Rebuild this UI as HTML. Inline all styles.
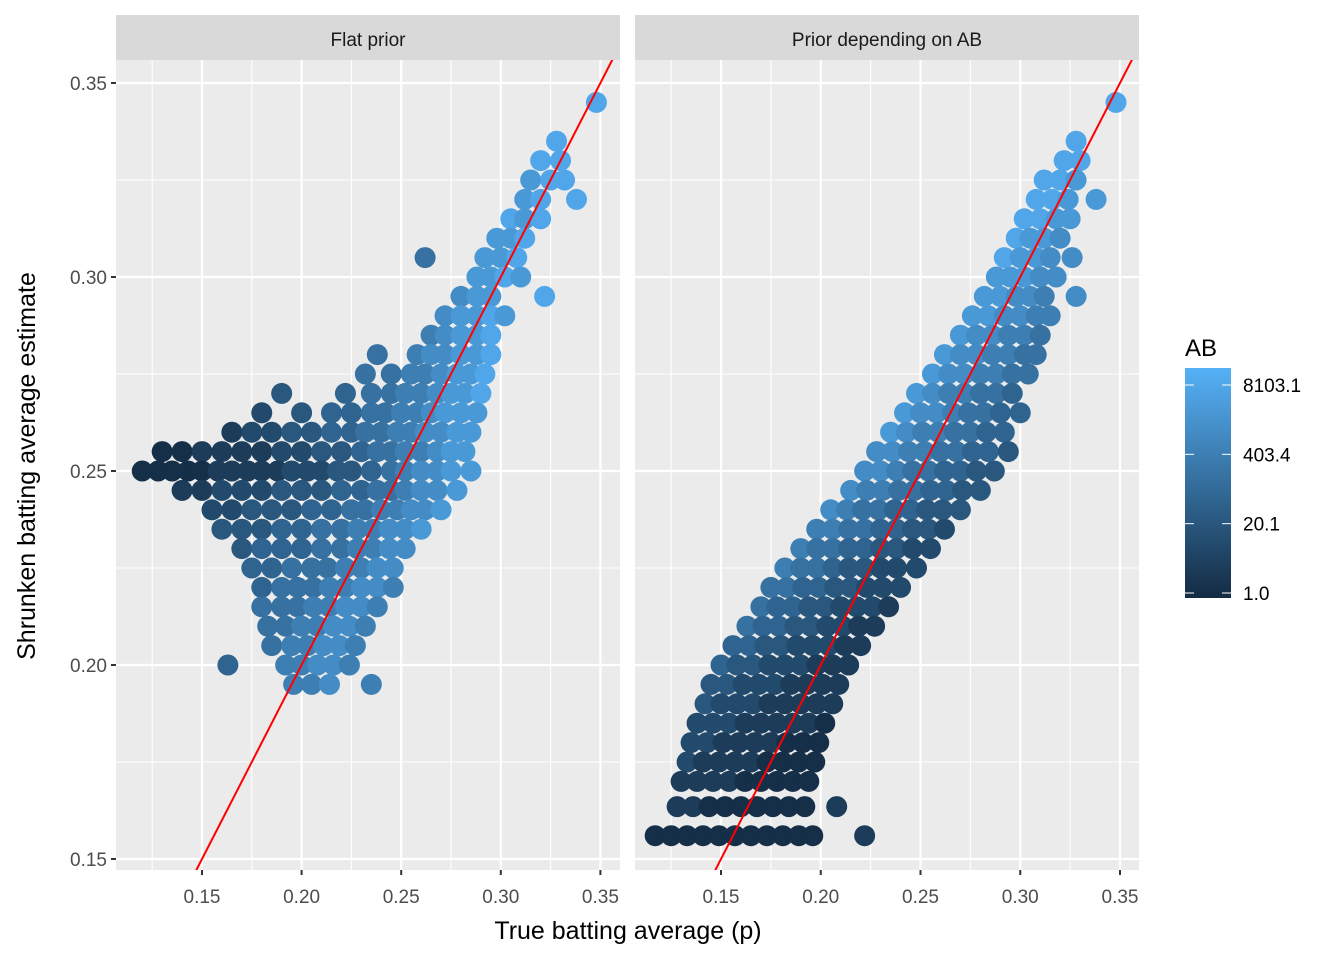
<!DOCTYPE html>
<html><head><meta charset="utf-8"><style>
html,body{margin:0;padding:0;background:#fff;width:1344px;height:960px;overflow:hidden;}
svg{display:block;font-family:"Liberation Sans",sans-serif;}
</style></head><body>
<svg id="chart" width="1344" height="960" viewBox="0 0 1344 960">
<defs><linearGradient id="abgrad" x1="0" y1="1" x2="0" y2="0"><stop offset="0" stop-color="#132B43"/><stop offset="1" stop-color="#56B1F7"/></linearGradient></defs>
<g id="panels"></g>
<text x="628" y="939" font-size="25" text-anchor="middle" fill="#000">True batting average (p)</text>
<text transform="translate(35,466) rotate(-90)" font-size="25" text-anchor="middle" fill="#000">Shrunken batting average estimate</text>
<g>
<text x="1185" y="356" font-size="24" fill="#000">AB</text>
<rect x="1185" y="368" width="46" height="230" fill="url(#abgrad)"/>
<g id="legendTicks"></g>
</g>
</svg>
<script>
const ticks=[0.15,0.20,0.25,0.30,0.35];
const tickLabels=["0.15","0.20","0.25","0.30","0.35"];
const minorTicks=[0.125,0.175,0.225,0.275,0.325];
const panelTitles=["Flat prior","Prior depending on AB"];
const legendLogs=[0,3,6,9];
const legendLabels=["1.0","20.1","403.4","8103.1"];
// left panel rows
const leftY=[0.345,0.335,0.330,0.325,0.320,0.315,0.310,0.305,0.300,0.295,0.290,0.285,0.280,0.275,0.270,0.265,0.260,0.255,0.250,0.245,0.240,0.235,0.230,0.225,0.220,0.215,0.210,0.205,0.200,0.195];
const leftX=[[0.348],[0.328],[0.320,0.330],[0.315,0.325,0.332],[0.312,0.320,0.338],[0.305,0.312,0.320],[0.298,0.305,0.312],[0.292,0.300,0.308,0.262],[0.288,0.295,0.302,0.310],[0.280,0.288,0.295,0.322],[0.272,0.280,0.288,0.295,0.302],[0.265,0.272,0.280,0.288,0.295],[0.238,0.258,0.265,0.272,0.280,0.288,0.295],[0.232,0.245,0.255,0.262,0.270,0.278,0.285,0.292],[0.190,0.222,0.235,0.245,0.252,0.260,0.268,0.275,0.282,0.290],[0.180,0.200,0.215,0.225,0.235,0.242,0.250,0.258,0.265,0.272,0.280,0.288],[0.165,0.175,0.185,0.195,0.205,0.215,0.225,0.232,0.240,0.248,0.255,0.262,0.270,0.278,0.285],[0.130,0.140,0.150,0.160,0.170,0.180,0.190,0.200,0.210,0.220,0.230,0.238,0.245,0.252,0.260,0.268,0.275,0.282],[0.120,0.128,0.135,0.143,0.150,0.158,0.165,0.173,0.180,0.188,0.195,0.203,0.210,0.218,0.225,0.235,0.245,0.252,0.260,0.268,0.275,0.285],[0.140,0.150,0.160,0.170,0.180,0.190,0.200,0.210,0.220,0.230,0.238,0.245,0.252,0.260,0.268,0.278],[0.155,0.165,0.175,0.185,0.195,0.205,0.215,0.225,0.232,0.240,0.248,0.255,0.262,0.270],[0.160,0.170,0.180,0.190,0.200,0.210,0.220,0.228,0.236,0.244,0.252,0.260],[0.170,0.180,0.190,0.200,0.210,0.220,0.228,0.236,0.244,0.252],[0.175,0.185,0.195,0.205,0.213,0.222,0.230,0.238,0.246],[0.180,0.190,0.198,0.206,0.214,0.222,0.230,0.238,0.246],[0.180,0.190,0.198,0.206,0.214,0.222,0.230,0.238],[0.183,0.192,0.200,0.208,0.216,0.224,0.232],[0.185,0.195,0.203,0.211,0.219,0.227],[0.163,0.192,0.200,0.208,0.216,0.224],[0.196,0.205,0.214,0.235]];
const leftAB=[[9],[9],[9,9],[8,9,9],[8,9,9],[9,8,9],[8,8,9],[8,8,9,5],[8,8,9,8],[7,8,8,9],[7,8,8,9,8],[6,7,8,8,9],[5,6,7,7,8,8,9],[5,5,6,6,7,8,8,9],[3,4,5,5,6,6,7,8,8,9],[2,3,4,4,5,5,6,6,7,8,8,8],[1,2,2,3,3,4,4,5,5,6,6,7,7,8,8],[0,0,1,1,1,1,2,2,3,3,4,5,5,6,6,7,8,8],[0,0,0,0,0,1,1,1,1,1,2,2,2,3,3,4,5,6,7,7,8,8],[1,1,2,2,2,3,3,3,4,4,5,5,6,7,7,8],[2,2,3,3,3,4,4,5,5,6,6,7,7,8],[3,3,3,4,4,5,5,6,6,7,7,8],[3,4,4,4,5,5,6,6,7,7],[4,4,5,5,5,6,6,7,7],[4,5,5,5,6,6,7,7,6],[5,5,5,6,6,7,7,6],[5,5,6,6,7,7,6],[5,6,6,7,7,6],[4,6,6,7,7,6],[6,6,7,6]];
// right panel rows
const rightY=[0.345,0.335,0.330,0.325,0.320,0.315,0.310,0.305,0.300,0.295,0.290,0.285,0.280,0.275,0.270,0.265,0.260,0.255,0.250,0.245,0.240,0.235,0.230,0.225,0.220,0.215,0.210,0.205,0.200,0.195,0.190,0.185,0.180,0.175,0.170,0.1635,0.156];
const rightX=[[0.348],[0.328],[0.322,0.330],[0.312,0.320,0.328],[0.308,0.316,0.324,0.338],[0.302,0.310,0.318,0.325],[0.298,0.305,0.312,0.320],[0.292,0.300,0.308,0.315,0.326],[0.288,0.295,0.302,0.310,0.318],[0.282,0.290,0.298,0.305,0.312,0.328],[0.276,0.284,0.292,0.300,0.308,0.315],[0.270,0.278,0.286,0.294,0.302,0.310],[0.262,0.270,0.278,0.286,0.294,0.302,0.308],[0.256,0.264,0.272,0.280,0.288,0.296,0.304],[0.248,0.256,0.264,0.272,0.280,0.288,0.296],[0.242,0.250,0.258,0.266,0.274,0.282,0.290,0.300],[0.235,0.243,0.251,0.259,0.267,0.275,0.283,0.292],[0.228,0.236,0.244,0.252,0.260,0.268,0.276,0.284,0.294],[0.222,0.230,0.238,0.246,0.254,0.262,0.270,0.278,0.287],[0.215,0.223,0.231,0.239,0.247,0.255,0.263,0.271,0.280],[0.205,0.213,0.221,0.229,0.237,0.245,0.253,0.261,0.270],[0.198,0.206,0.214,0.222,0.230,0.238,0.246,0.254,0.262],[0.190,0.198,0.206,0.214,0.222,0.230,0.238,0.246,0.255],[0.182,0.190,0.198,0.206,0.214,0.222,0.230,0.238,0.248],[0.175,0.183,0.191,0.199,0.207,0.215,0.223,0.231,0.240],[0.170,0.178,0.186,0.194,0.202,0.210,0.218,0.226,0.234],[0.163,0.171,0.179,0.187,0.195,0.203,0.211,0.219,0.227],[0.156,0.164,0.172,0.180,0.188,0.196,0.204,0.212,0.220],[0.150,0.158,0.166,0.174,0.182,0.190,0.198,0.206,0.214],[0.145,0.153,0.161,0.169,0.177,0.185,0.193,0.201,0.209],[0.142,0.150,0.158,0.166,0.174,0.182,0.190,0.198,0.206],[0.138,0.146,0.154,0.162,0.170,0.178,0.186,0.194,0.202],[0.135,0.143,0.151,0.159,0.167,0.175,0.183,0.191,0.199],[0.133,0.141,0.149,0.157,0.165,0.173,0.181,0.189,0.197],[0.130,0.138,0.146,0.154,0.162,0.170,0.178,0.186,0.194],[0.128,0.136,0.144,0.152,0.160,0.168,0.176,0.184,0.192,0.208],[0.117,0.125,0.133,0.141,0.149,0.157,0.165,0.173,0.181,0.189,0.196,0.222]];
const rightAB=[[9],[9],[9,9],[9,9,8],[9,9,8,8],[9,9,8,8],[9,8,8,7],[9,8,8,7,7],[8,8,8,7,7],[8,8,7,7,6,7],[8,8,7,7,6,6],[8,7,7,6,6,5],[8,7,7,6,6,5,5],[8,7,7,6,6,5,5],[8,7,6,6,5,5,4],[8,7,7,6,5,5,4,4],[8,7,6,6,5,5,4,4],[7,7,6,6,5,5,4,4,3],[7,7,6,5,5,4,4,3,3],[7,6,6,5,5,4,4,3,3],[7,6,5,5,4,4,3,3,3],[6,6,5,5,4,4,3,3,2],[6,5,5,4,4,3,3,2,2],[6,5,5,4,3,3,2,2,2],[5,5,4,4,3,3,2,2,2],[5,4,4,3,3,2,2,2,1],[5,4,4,3,3,2,2,1,1],[4,4,3,3,2,2,2,1,1],[4,3,3,2,2,2,1,1,1],[3,3,2,2,2,1,1,1,1],[3,2,2,2,1,1,1,1,1],[2,2,2,1,1,1,1,1,0],[2,2,1,1,1,1,0,0,0],[2,1,1,1,1,0,0,0,0],[1,1,1,1,0,0,0,0,0],[1,1,0,0,0,0,0,0,0,1],[0,0,0,0,0,0,0,0,0,0,0,1]];

const NS="http://www.w3.org/2000/svg";
const PT=60,PB=870;
const yScale=v=>83+(0.35-v)*3880;
const panels=[{x0:116,x1:620,xs:v=>202+(v-0.15)*1992,Y:leftY,X:leftX,AB:leftAB},{x0:635,x1:1139,xs:v=>721+(v-0.15)*1995,Y:rightY,X:rightX,AB:rightAB}];
function mk(tag,attrs,parent){const e=document.createElementNS(NS,tag);for(const k in attrs)e.setAttribute(k,attrs[k]);parent.appendChild(e);return e;}
function col(ab){const t=Math.max(0,Math.min(1,(ab+0.3)/10.1));const a=[0x13,0x2B,0x43],b=[0x56,0xB1,0xF7];return "rgb("+a.map((c,i)=>Math.round(c+(b[i]-c)*t)).join(",")+")";}
const root=document.getElementById('panels');
panels.forEach((p,pi)=>{
  const g=mk('g',{},root);
  
  
  const bg=mk('rect',{x:p.x0,y:PT,width:p.x1-p.x0,height:PB-PT,fill:'#EBEBEB'},g);
  
  
  const st=mk('rect',{x:p.x0,y:15,width:p.x1-p.x0,height:45,fill:'#D9D9D9'},g);
  
  
  const stt=mk('text',{x:(p.x0+p.x1)/2,y:46,'font-size':19,'text-anchor':'middle',fill:'#1A1A1A'},g);
  stt.textContent=panelTitles[pi];
  
  
  const yMinor=[0.175,0.225,0.275,0.325];
  yMinor.forEach(v=>{const l=mk('line',{x1:p.x0,x2:p.x1,y1:yScale(v),y2:yScale(v),stroke:'#fff','stroke-width':1.1},g);});
  minorTicks.forEach(v=>{const l=mk('line',{x1:p.xs(v),x2:p.xs(v),y1:PT,y2:PB,stroke:'#fff','stroke-width':1.1},g);});
  ticks.forEach((v,i)=>{
    const l=mk('line',{x1:p.x0,x2:p.x1,y1:yScale(v),y2:yScale(v),stroke:'#fff','stroke-width':2.2},g);
    
    
    const l2=mk('line',{x1:p.xs(v),x2:p.xs(v),y1:PT,y2:PB,stroke:'#fff','stroke-width':2.2},g);
    
    
    const tk=mk('line',{x1:p.xs(v),x2:p.xs(v),y1:PB,y2:PB+5,stroke:'#333','stroke-width':2},g);
    
    
    const tl=mk('text',{x:p.xs(v),y:903,'font-size':19,'text-anchor':'middle',fill:'#4D4D4D'},g);
    tl.textContent=tickLabels[i];
    
    
    if(pi===0){
      const yt=mk('line',{x1:p.x0-5,x2:p.x0,y1:yScale(v),y2:yScale(v),stroke:'#333','stroke-width':2},g);
      
      
      const yl=mk('text',{x:p.x0-9,y:yScale(v)+7,'font-size':19,'text-anchor':'end',fill:'#4D4D4D'},g);
      yl.textContent=tickLabels[i];
      
      
    }
  });
  const cp=mk('clipPath',{id:'clip'+pi},g);
  mk('rect',{x:p.x0,y:PT,width:p.x1-p.x0,height:PB-PT},cp);
  const pts=mk('g',{'clip-path':'url(#clip'+pi+')'},g);
  
  
  p.Y.forEach((yv,ri)=>{
    p.X[ri].forEach((xv,ci)=>{
      const c=mk('circle',{cx:p.xs(xv),cy:yScale(yv),r:10.5,fill:col(p.AB[ri][ci])},pts);
      
      
    });
  });
  const rl=mk('line',{x1:p.xs(0.1),y1:yScale(0.1),x2:p.xs(0.4),y2:yScale(0.4),stroke:'#FF0000','stroke-width':2},pts);
  
  
});
const lt=document.getElementById('legendTicks');
legendLogs.forEach((v,i)=>{
  const yy=593-v*(593-385)/9;
  const a=mk('line',{x1:1185,x2:1194,y1:yy,y2:yy,stroke:'#fff','stroke-width':1},lt);
  
  
  const b=mk('line',{x1:1222,x2:1231,y1:yy,y2:yy,stroke:'#fff','stroke-width':1},lt);
  
  
  const t=mk('text',{x:1243,y:yy+7,'font-size':19,fill:'#000'},lt);
  t.textContent=legendLabels[i];
  
  
});
</script>
</body></html>
